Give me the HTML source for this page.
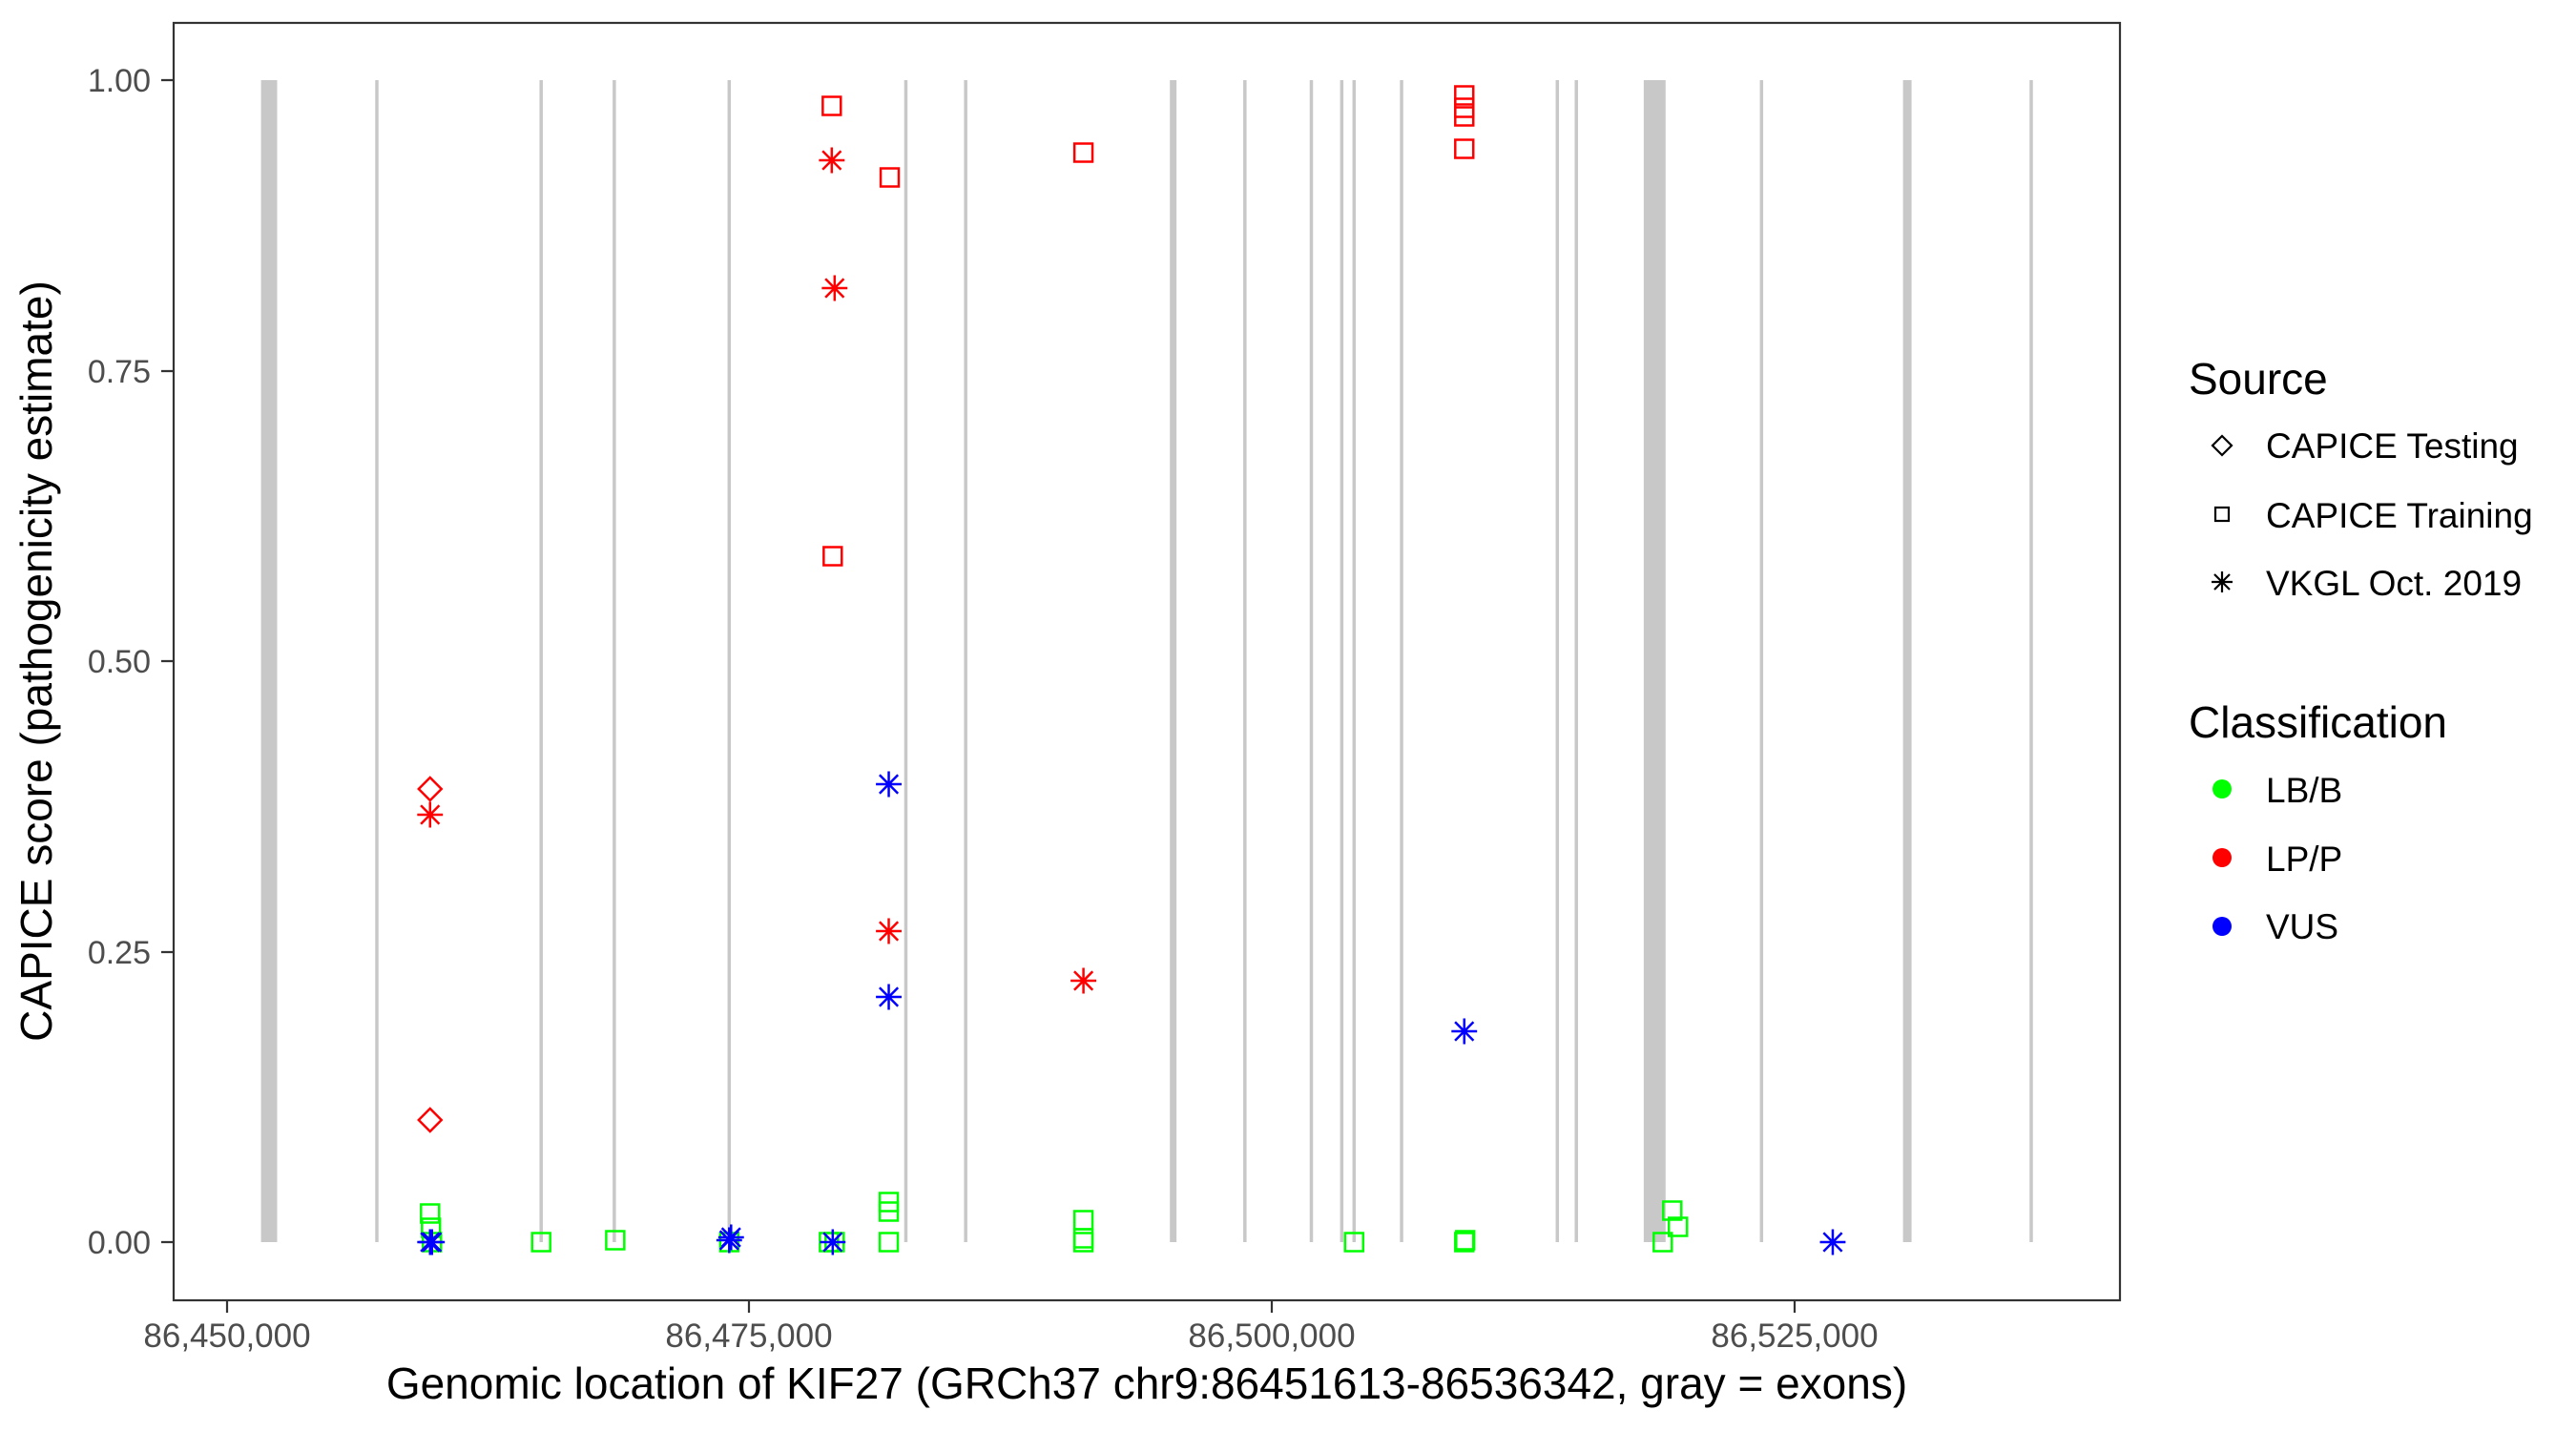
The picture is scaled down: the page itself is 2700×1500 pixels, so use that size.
<!DOCTYPE html>
<html><head><meta charset="utf-8"><style>html,body{margin:0;padding:0;background:#fff}svg{display:block}</style></head>
<body>
<svg width="2700" height="1500" viewBox="0 0 2700 1500" xmlns="http://www.w3.org/2000/svg" font-family="Liberation Sans, Arial, sans-serif">
<defs>
<g id="sq"><rect x="-9.5" y="-9.5" width="19" height="19" fill="none" stroke-width="2.5"/></g>
<g id="dm"><path d="M0,-12 L12,0 L0,12 L-12,0 Z" fill="none" stroke-width="2.5"/></g>
<g id="st" stroke-width="2.5"><path d="M0,-13.5V13.5M-13.5,0H13.5M-9.7,-9.7L9.7,9.7M-9.7,9.7L9.7,-9.7"/></g>
</defs>
<rect width="2700" height="1500" fill="#fff"/>
<g transform="translate(182,0) scale(0.9954,1) translate(-182,0)">
<g fill="#c8c8c8">
<rect x="274" y="84" width="17" height="1218"/>
<rect x="1730" y="84" width="23" height="1218"/>
<rect x="2003" y="84" width="9" height="1218"/>
<rect x="1231" y="84" width="7" height="1218"/>
</g>
<g stroke="#c8c8c8" stroke-width="3.5">
<path d="M396,84V1302M569,84V1302M646,84V1302M767,84V1302M953,84V1302M1016,84V1302M1310,84V1302M1380,84V1302M1412,84V1302M1425,84V1302M1475,84V1302M1639,84V1302M1659,84V1302M1854,84V1302M2138,84V1302"/>
</g>
<g stroke="#00ff00">
<use href="#sq" x="452" y="1272"/><use href="#sq" x="453" y="1287"/><use href="#sq" x="454" y="1302"/>
<use href="#sq" x="569" y="1302"/><use href="#sq" x="647" y="1300"/>
<use href="#sq" x="767" y="1302"/>
<use href="#sq" x="872" y="1302"/><use href="#sq" x="878" y="1302"/>
<use href="#sq" x="935" y="1260"/><use href="#sq" x="935" y="1270"/><use href="#sq" x="935" y="1302"/>
<use href="#sq" x="1140" y="1279"/><use href="#sq" x="1140" y="1298"/><use href="#sq" x="1140" y="1302"/>
<use href="#sq" x="1425" y="1302"/>
<use href="#sq" x="1541" y="1302"/><use href="#sq" x="1542" y="1300"/>
<use href="#sq" x="1750" y="1302"/><use href="#sq" x="1760" y="1269"/><use href="#sq" x="1766" y="1286"/>
</g>
<g stroke="#ff0000">
<use href="#dm" x="452" y="827"/><use href="#dm" x="452" y="1174"/>
<use href="#st" x="452" y="854"/>
<use href="#sq" x="875" y="111"/><use href="#sq" x="876" y="583"/>
<use href="#st" x="875" y="168"/><use href="#st" x="878" y="302"/>
<use href="#sq" x="936" y="186"/>
<use href="#st" x="935" y="976"/>
<use href="#sq" x="1140" y="160"/><use href="#st" x="1140" y="1028"/>
<use href="#sq" x="1541" y="100"/><use href="#sq" x="1541" y="113"/><use href="#sq" x="1541" y="122"/><use href="#sq" x="1541" y="156"/>
</g>
<g stroke="#0000ff">
<use href="#st" x="452" y="1302"/><use href="#st" x="454" y="1302"/>
<use href="#st" x="767" y="1300"/><use href="#st" x="769" y="1297"/>
<use href="#st" x="876" y="1302"/>
<use href="#st" x="935" y="822"/><use href="#st" x="935" y="1045"/>
<use href="#st" x="1541" y="1081"/>
<use href="#st" x="1929" y="1302"/>
</g>
</g>
<rect x="182" y="24" width="2040" height="1339" fill="none" stroke="#333" stroke-width="2.2"/>
<g stroke="#333" stroke-width="2.2"><path d="M169,84H182M169,389H182M169,693H182M169,998H182M169,1302H182M238,1363V1376M785,1363V1376M1333,1363V1376M1881,1363V1376"/></g>
<g fill="#4d4d4d" font-size="34" text-anchor="end">
<text x="158" y="96">1.00</text><text x="158" y="401">0.75</text><text x="158" y="705">0.50</text><text x="158" y="1010">0.25</text><text x="158" y="1314">0.00</text>
</g>
<g fill="#4d4d4d" font-size="35" text-anchor="middle">
<text x="238" y="1412">86,450,000</text><text x="785" y="1412">86,475,000</text><text x="1333" y="1412">86,500,000</text><text x="1881" y="1412">86,525,000</text>
</g>
<text x="1202" y="1466" font-size="46" text-anchor="middle">Genomic location of KIF27 (GRCh37 chr9:86451613-86536342, gray = exons)</text>
<text transform="translate(54,693) rotate(-90)" font-size="46" text-anchor="middle">CAPICE score (pathogenicity estimate)</text>
<text x="2294" y="413" font-size="46">Source</text>
<g stroke="#000"><path d="M2329,457 L2339,467 L2329,477 L2319,467 Z" fill="none" stroke-width="2.2"/>
<rect x="2322" y="532" width="14" height="14" fill="none" stroke-width="2.2"/>
<path d="M2329,599V621M2318,610H2340M2321,602L2337,618M2321,618L2337,602" stroke-width="2.2"/></g>
<g font-size="37"><text x="2375" y="480">CAPICE Testing</text><text x="2375" y="553">CAPICE Training</text><text x="2375" y="624">VKGL Oct. 2019</text></g>
<text x="2294" y="773" font-size="46">Classification</text>
<circle cx="2329" cy="827" r="10" fill="#00ff00"/><circle cx="2329" cy="899" r="10" fill="#ff0000"/><circle cx="2329" cy="971" r="10" fill="#0000ff"/>
<g font-size="37"><text x="2375" y="841">LB/B</text><text x="2375" y="913">LP/P</text><text x="2375" y="984">VUS</text></g>
</svg>
</body></html>
